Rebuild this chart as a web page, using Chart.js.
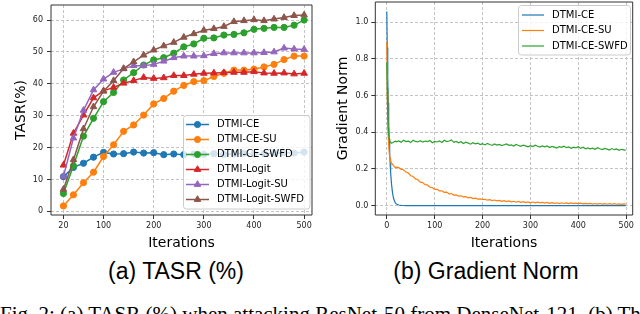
<!DOCTYPE html>
<html><head><meta charset="utf-8">
<script src="https://cdn.jsdelivr.net/npm/chart.js@4.4.0/dist/chart.umd.min.js"></script>
<style>
html,body{margin:0;padding:0;background:#fff;width:640px;height:314px;overflow:hidden;position:relative;}
canvas{position:absolute;top:0;}
#c1{left:0;}
#c2{left:320px;}
.cap{position:absolute;font-family:"Liberation Sans",Arial,sans-serif;font-size:23px;color:#000;white-space:nowrap;transform:translateX(-50%);line-height:26px;}
#figcap{position:absolute;left:0;top:302px;font-family:"Liberation Serif","Times New Roman",serif;font-size:21px;line-height:24px;white-space:nowrap;color:#000;}
</style></head><body>
<canvas id="c1" width="320" height="252"></canvas>
<canvas id="c2" width="320" height="252"></canvas>
<div class="cap" style="left:176px;top:258px">(a) TASR (%)</div>
<div class="cap" style="left:486px;top:258px">(b) Gradient Norm</div>
<div id="figcap">Fig. 2: (a) TASR (%) when attacking ResNet-50 from DenseNet-121. (b) Th</div>
<script>
// ---------- (a) TASR data ----------
const tasrIters = [20,40,60,80,100,120,140,160,180,200,220,240,260,280,300,320,340,360,380,400,420,440,460,480,500];
const tasrTicks = [20,100,200,300,400,500];
const dtmiCE        = [10.9,13.8,15.1,17.0,18.5,18.0,18.1,18.6,18.3,18.4,17.8,18.0,17.8,18.0,17.9,18.1,17.9,18.0,18.2,18.0,18.1,18.3,18.4,18.3,18.6];
const dtmiCESU      = [1.7,5.2,9.0,12.3,17.2,20.9,25.1,27.1,30.2,33.7,35.4,37.7,39.5,40.7,41.0,42.3,43.3,44.3,44.3,44.6,45.3,46.1,47.6,48.7,48.7];
const dtmiCESWFD    = [5.6,14.3,23.6,29.2,34.4,37.3,41.2,43.5,45.9,47.5,48.2,49.6,51.6,52.5,54.3,54.4,55.3,55.5,56.0,57.1,57.4,57.7,57.7,58.4,60.0];
const dtmiLogit     = [14.5,24.5,30.2,35.6,37.8,38.9,40.2,41.0,42.0,41.7,41.9,42.6,42.6,43.0,43.3,43.4,43.5,43.6,43.6,43.8,43.4,43.3,43.4,43.1,43.3];
const dtmiLogitSU   = [11.0,23.0,31.7,38.1,41.5,43.6,44.7,45.7,45.7,46.1,47.1,48.2,48.7,48.7,48.8,49.5,49.7,49.7,49.7,49.7,49.8,50.0,51.2,50.9,50.8];
const dtmiLogitSWFD = [6.9,16.2,25.9,32.8,37.7,41.0,44.8,46.9,49.0,50.6,51.9,53.0,54.6,55.7,56.8,57.3,58.0,59.5,59.8,60.1,59.8,60.3,60.8,61.4,61.6];

// ---------- (b) Gradient norm data ----------
const gnIters = [0,1,2,3,4,5,6,7,8,10,12,14,16,18,20,
 25,30,35,40,45,50,55,60,65,70,75,80,85,90,95,100,
 105,110,115,120,125,130,135,140,145,150,155,160,165,170,175,180,185,190,195,200,
 205,210,215,220,225,230,235,240,245,250,255,260,265,270,275,280,285,290,295,300,
 305,310,315,320,325,330,335,340,345,350,355,360,365,370,375,380,385,390,395,400,
 405,410,415,420,425,430,435,440,445,450,455,460,465,470,475,480,485,490,495,499];
const gnCE = [1.057,0.86,0.70,0.56,0.45,0.36,0.29,0.23,0.18,0.115,0.07,0.042,0.025,0.015,0.009,
 0.004,0.002,0.001,0.0006,0.0004,0.0003,0.0002,0.0002,0.0001,0.0001,0.0001,0.0001,0.0001,0.0001,0.0001,0.0001,
 0,0,0,0,0,0,0,0,0,0,0,0,0,0,0,0,0,0,0,0,
 0,0,0,0,0,0,0,0,0,0,0,0,0,0,0,0,0,0,0,0,
 0,0,0,0,0,0,0,0,0,0,0,0,0,0,0,0,0,0,0,0,
 0,0,0,0,0,0,0,0,0,0,0,0,0,0,0,0,0,0,0,0];
const gnCESU = [0.893,0.62,0.47,0.38,0.33,0.29,0.27,0.255,0.245,0.232,0.225,0.218,0.212,0.208,0.21,
 0.207,0.198,0.196,0.183,0.178,0.163,0.159,0.146,0.141,0.128,0.126,0.114,0.113,0.101,0.099,0.089,
 0.089,0.081,0.081,0.073,0.074,0.065,0.066,0.058,0.059,0.052,0.054,0.048,0.049,0.043,0.045,0.039,0.041,0.036,0.037,0.034,
 0.035,0.030,0.033,0.028,0.031,0.026,0.029,0.024,0.027,0.022,0.026,0.021,0.024,0.019,0.023,0.018,0.022,0.017,0.021,0.016,
 0.020,0.016,0.019,0.015,0.018,0.014,0.018,0.013,0.017,0.013,0.016,0.012,0.016,0.012,0.015,0.011,0.015,0.011,0.014,0.011,
 0.014,0.010,0.013,0.010,0.013,0.009,0.012,0.009,0.012,0.009,0.011,0.008,0.011,0.008,0.011,0.008,0.010,0.007,0.010,0.009];
const gnCESWFD = [0.78,0.64,0.50,0.42,0.385,0.365,0.352,0.347,0.344,0.341,0.343,0.346,0.349,0.351,0.348,
 0.353,0.345,0.356,0.349,0.352,0.344,0.357,0.350,0.347,0.354,0.346,0.352,0.349,0.355,0.343,0.350,
 0.347,0.353,0.344,0.356,0.349,0.352,0.358,0.345,0.350,0.342,0.348,0.339,0.346,0.341,0.335,0.343,0.337,0.341,0.333,0.338,
 0.331,0.339,0.333,0.328,0.336,0.330,0.334,0.327,0.332,0.336,0.329,0.331,0.325,0.333,0.328,0.323,0.330,0.326,0.321,0.327,
 0.322,0.329,0.324,0.319,0.326,0.321,0.325,0.317,0.323,0.319,0.314,0.322,0.318,0.324,0.316,0.320,0.313,0.319,0.315,0.321,
 0.312,0.318,0.310,0.315,0.309,0.313,0.307,0.316,0.310,0.306,0.312,0.308,0.303,0.311,0.305,0.309,0.302,0.307,0.304,0.301];

const C = {blue:'#1f77b4',orange:'#ff7f0e',green:'#2ca02c',red:'#d62728',purple:'#9467bd',brown:'#8c564b'};

Chart.defaults.font.family = 'DejaVu Sans';
Chart.defaults.color = '#222';

const spines = {
  id:'spines',
  afterDatasetsDraw(chart){
    const a = chart.chartArea, ctx = chart.ctx;
    ctx.save();
    ctx.strokeStyle = '#333'; ctx.lineWidth = 1;
    ctx.beginPath();
    ctx.moveTo(a.left, a.top); ctx.lineTo(a.left, a.bottom); ctx.lineTo(a.right, a.bottom); ctx.lineTo(a.right, a.top); ctx.lineTo(a.left, a.top);
    ctx.stroke();
    ctx.restore();
  }
};
const mplLegend = {
  id:'mplLegend',
  afterDraw(chart, args, o){
    const ctx = chart.ctx;
    ctx.save();
    ctx.beginPath();
    ctx.roundRect(o.x, o.y, o.w, o.h, 3);
    ctx.fillStyle = 'rgba(255,255,255,0.8)';
    ctx.fill();
    ctx.strokeStyle = '#cccccc'; ctx.lineWidth = 1;
    ctx.stroke();
    chart.data.datasets.forEach((ds,i)=>{
      const cy = o.y0 + i*o.dy;
      ctx.strokeStyle = ds.borderColor; ctx.lineWidth = ds.borderWidth;
      ctx.beginPath(); ctx.moveTo(o.lx0, cy); ctx.lineTo(o.lx1, cy); ctx.stroke();
      if (ds.pointRadius > 0) {
        ctx.fillStyle = ds.pointBackgroundColor; ctx.strokeStyle = ds.pointBorderColor; ctx.lineWidth = ds.pointBorderWidth;
        Chart.helpers.drawPoint(ctx, {pointStyle: ds.pointStyle, radius: ds.pointRadius, borderWidth: ds.pointBorderWidth, rotation: 0}, (o.lx0+o.lx1)/2, cy);
      }
      ctx.fillStyle = '#000'; ctx.font = o.font; ctx.textBaseline = 'middle'; ctx.textAlign = 'left';
      ctx.fillText(ds.label, o.tx, cy);
    });
    ctx.restore();
  }
};

function mkSeries(label, data, color, style, order){
  return {label, data: tasrIters.map((x,i)=>({x, y:data[i]})), borderColor:color, backgroundColor:color,
    pointBackgroundColor:color, pointBorderColor:color, pointBorderWidth:1,
    pointStyle:style, pointRadius: style==='triangle'?3.8:3.1, borderWidth:1.5, order, tension:0};
}
function mkLine(label, data, color, order){
  return {label, data: gnIters.map((x,i)=>({x, y:data[i]})), borderColor:color, backgroundColor:color,
    pointRadius:0, borderWidth:1.2, order, tension:0};
}
function fixAxis(size, isX, H){
  return function(scale){
    if (isX) scale.height = H - size; else scale.width = size;
    scale.paddingTop = 0; scale.paddingBottom = 0; scale.paddingLeft = 0; scale.paddingRight = 0;
  };
}
const H = 252;
const gridCommon = {color:'#c4c4c4', lineWidth:1, tickLength:4, tickColor:'#333', tickWidth:1};
const borderCommon = {display:false, dash:[3,2]};
const tickFont = {size:8};
const titleFont = {size:14};

new Chart(document.getElementById('c1'), {
  type:'line',
  data:{datasets:[
    mkSeries('DTMI-CE', dtmiCE, C.blue, 'circle', 5),
    mkSeries('DTMI-CE-SU', dtmiCESU, C.orange, 'circle', 4),
    mkSeries('DTMI-CE-SWFD', dtmiCESWFD, C.green, 'circle', 3),
    mkSeries('DTMI-Logit', dtmiLogit, C.red, 'triangle', 2),
    mkSeries('DTMI-Logit-SU', dtmiLogitSU, C.purple, 'triangle', 1),
    mkSeries('DTMI-Logit-SWFD', dtmiLogitSWFD, C.brown, 'triangle', 0)
  ]},
  options:{
    responsive:false, animation:false, devicePixelRatio:1,
    layout:{padding:{left:0,right:8,top:0,bottom:0}},
    plugins:{legend:{display:false}, tooltip:{enabled:false},
      mplLegend:{x:183.5,y:115.5,w:126.5,h:93.5,y0:124.5,dy:15,lx0:186,lx1:209,tx:217,font:'10px "DejaVu Sans"'}},
    scales:{
      x:{type:'linear', min:-4.8, max:515.7,
        afterBuildTicks(s){ s.ticks = tasrTicks.map(v=>({value:v})); },
        afterFit: fixAxis(215, true, H),
        grid:gridCommon, border:borderCommon,
        ticks:{font:tickFont, color:'#222', padding:2, maxRotation:0, autoSkip:false},
        title:{display:true, text:'Iterations', font:titleFont, color:'#000', padding:{top:0,bottom:0}}},
      y:{type:'linear', min:-1.13, max:64.72,
        afterFit: fixAxis(51, false, H),
        grid:gridCommon, border:borderCommon,
        ticks:{font:tickFont, color:'#222', padding:4, stepSize:10, includeBounds:false},
        title:{display:true, text:'TASR(%)', font:titleFont, color:'#000', padding:{top:13.3,bottom:0}}}
    }
  },
  plugins:[spines, mplLegend]
});

new Chart(document.getElementById('c2'), {
  type:'line',
  data:{datasets:[
    mkLine('DTMI-CE', gnCE, C.blue, 2),
    mkLine('DTMI-CE-SU', gnCESU, C.orange, 1),
    mkLine('DTMI-CE-SWFD', gnCESWFD, C.green, 0)
  ]},
  options:{
    responsive:false, animation:false, devicePixelRatio:1,
    layout:{padding:{left:0,right:7.3,top:2,bottom:0}},
    plugins:{legend:{display:false}, tooltip:{enabled:false},
      mplLegend:{x:198.5,y:5.5,w:112,h:49.5,y0:15,dy:15.5,lx0:202,lx1:224,tx:232,font:'10px "DejaVu Sans"'}},
    scales:{
      x:{type:'linear', min:-24, max:513.6,
        afterFit: fixAxis(215, true, H),
        grid:gridCommon, border:borderCommon,
        ticks:{font:tickFont, color:'#222', padding:2, maxRotation:0, autoSkip:false, stepSize:100, includeBounds:false},
        title:{display:true, text:'Iterations', font:titleFont, color:'#000', padding:{top:0,bottom:0}}},
      y:{type:'linear', min:-0.0506, max:1.109,
        afterFit: fixAxis(55.3, false, H),
        grid:gridCommon, border:borderCommon,
        ticks:{font:tickFont, color:'#222', padding:3, stepSize:0.2, includeBounds:false, callback:v=>v.toFixed(1)},
        title:{display:true, text:'Gradient Norm', font:titleFont, color:'#000', padding:{top:15.3,bottom:0}}}
    }
  },
  plugins:[spines, mplLegend]
});
</script>
</body></html>
